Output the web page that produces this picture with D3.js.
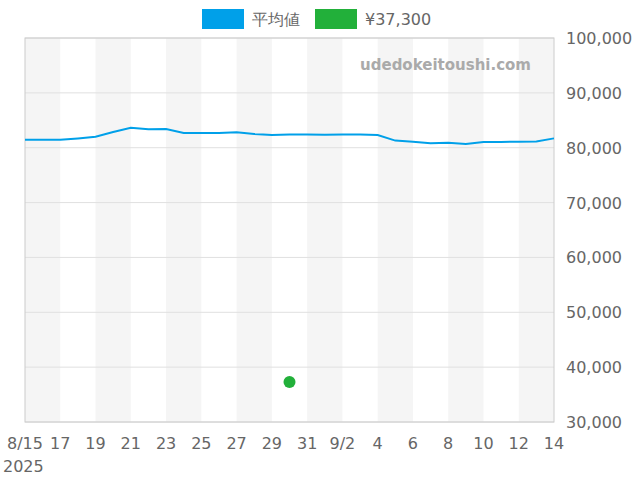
<!DOCTYPE html><html><head><meta charset="utf-8"><script src="https://cdn.jsdelivr.net/npm/d3@7"></script>
<style>body{margin:0}text{font-family:"DejaVu Sans",sans-serif}</style></head><body><svg width="640" height="480"></svg><script>
const avgValues=[81450,81450,81450,81700,82000,82850,83650,83350,83400,82700,82700,82700,82800,82500,82300,82400,82400,82350,82400,82400,82300,81300,81100,80800,80900,80700,81050,81050,81100,81150,81700];
const pointDay=15, pointValue=37300;
const yTicks=[30000,40000,50000,60000,70000,80000,90000,100000];
const xLabels=["8/15","17","19","21","23","25","27","29","31","9/2","4","6","8","10","12","14"];
const seriesNames=["平均値","¥37,300"];
const svg=d3.select("svg");
const L=25,R=554,T=38,B=422;
const x=d3.scaleLinear().domain([0,30]).range([L,R]);
const y=d3.scaleLinear().domain([30000,100000]).range([B,T]);
for(let i=0;i<15;i+=2)svg.append("rect").attr("x",x(i*2)).attr("y",T).attr("width",x(2)-x(0)).attr("height",B-T).attr("fill","#f5f5f5");
yTicks.forEach(t=>{svg.append("line").attr("x1",L).attr("x2",R).attr("y1",y(t)).attr("y2",y(t)).attr("stroke","#e0e0e0");
svg.append("text").attr("x",R+12).attr("y",y(t)+6).attr("font-size",16).attr("fill","#666").text(d3.format(",")(t));});
svg.append("rect").attr("x",L).attr("y",T).attr("width",R-L).attr("height",B-T).attr("fill","none").attr("stroke","#ccc");
xLabels.forEach((l,i)=>svg.append("text").attr("x",x(i*2)).attr("y",449).attr("text-anchor","middle").attr("font-size",16).attr("fill","#666").text(l));
svg.append("text").attr("x",3).attr("y",472).attr("font-size",16).attr("fill","#666").text("2025");
svg.append("path").datum(avgValues).attr("d",d3.line().x((d,i)=>x(i)).y(d=>y(d))).attr("fill","none").attr("stroke","#00a0e9").attr("stroke-width",2);
svg.append("circle").attr("cx",x(pointDay)).attr("cy",y(pointValue)).attr("r",6).attr("fill","#22b03a");
svg.append("text").attr("x",531).attr("y",70).attr("text-anchor","end").attr("font-size",15).attr("font-weight","bold").attr("fill","#aaa").text("udedokeitoushi.com");
const lg=[[202,"#00a0e9"],[315,"#22b03a"]];
lg.forEach(([lx,c],i)=>{svg.append("rect").attr("x",lx).attr("y",9).attr("width",42).attr("height",20).attr("fill",c);
svg.append("text").attr("x",lx+50).attr("y",25).attr("font-size",16).attr("fill","#666").text(seriesNames[i]);});
</script></body></html>
